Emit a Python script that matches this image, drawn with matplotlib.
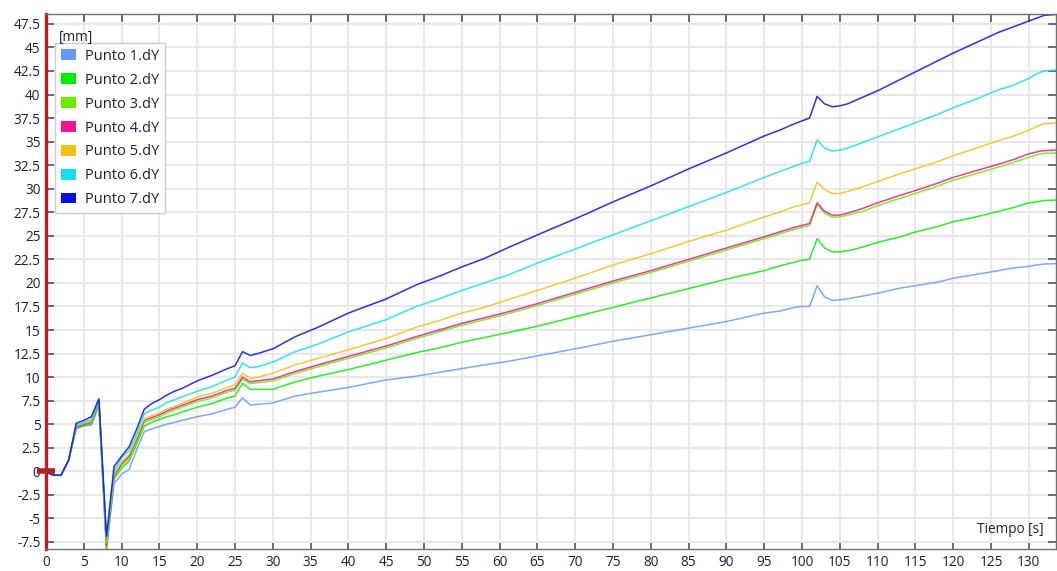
import matplotlib
matplotlib.use("Agg")
import matplotlib.pyplot as plt
from matplotlib.patches import Patch
from matplotlib.ticker import MultipleLocator, FuncFormatter

plt.rcParams['font.family'] = ['Open Sans', 'DejaVu Sans']
plt.rcParams['axes.unicode_minus'] = False

# Sample times [s]
t = [0, 1, 2, 3, 4, 5, 6, 7, 8, 9, 10, 11, 12, 13, 14, 15, 16, 17, 18, 20, 22, 24, 25,
     26, 27, 28, 30, 33, 36, 40, 45, 49, 52, 55, 58, 61, 65, 70, 75, 80, 85, 90, 95, 97,
     99, 100, 101, 102, 103, 104, 105, 106, 108, 110, 113, 115, 118, 120, 123, 126, 128,
     130, 131, 132, 133.6]

# Vertical displacement dY [mm] for each measuring point
p1 = [-0.1, -0.4, -0.4, 1.2, 4.5, 4.8, 4.9, 7.0, -8.3, -1.3, -0.3, 0.2, 2.3, 4.2, 4.5, 4.75,
      5.0, 5.2, 5.4, 5.8, 6.1, 6.6, 6.8, 7.8, 7.05, 7.1, 7.25, 8.0, 8.4, 8.9, 9.7, 10.1,
      10.5, 10.9, 11.3, 11.65, 12.25, 13.0, 13.8, 14.5, 15.2, 15.9, 16.8, 17.0, 17.4, 17.5,
      17.5, 19.7, 18.5, 18.15, 18.2, 18.3, 18.6, 18.9, 19.45, 19.7, 20.1, 20.5, 20.9, 21.3,
      21.6, 21.75, 21.9, 22.0, 22.05]
p2 = [-0.1, -0.4, -0.4, 1.2, 4.6, 4.9, 5.0, 7.1, -8.3, -0.8, 0.3, 1.1, 2.9, 4.8, 5.2, 5.5,
      5.8, 6.0, 6.3, 6.8, 7.2, 7.8, 8.0, 9.35, 8.7, 8.7, 8.7, 9.5, 10.1, 10.8, 11.8, 12.6,
      13.1, 13.7, 14.2, 14.7, 15.4, 16.4, 17.4, 18.4, 19.4, 20.4, 21.3, 21.8, 22.2, 22.4,
      22.5, 24.7, 23.7, 23.3, 23.3, 23.4, 23.8, 24.3, 24.9, 25.4, 26.0, 26.5, 27.0, 27.6,
      28.0, 28.5, 28.6, 28.75, 28.8]
p3 = [-0.1, -0.4, -0.4, 1.2, 4.7, 5.0, 5.1, 7.2, -8.0, -0.6, 0.6, 1.4, 3.2, 5.2, 5.5, 5.8,
      6.2, 6.5, 6.8, 7.4, 7.8, 8.4, 8.6, 9.8, 9.3, 9.4, 9.6, 10.4, 11.1, 12.0, 13.1, 14.1,
      14.8, 15.5, 16.1, 16.7, 17.6, 18.8, 20.0, 21.1, 22.3, 23.5, 24.7, 25.2, 25.7, 25.9,
      26.1, 28.3, 27.4, 27.0, 27.0, 27.2, 27.6, 28.2, 29.0, 29.5, 30.3, 30.9, 31.6, 32.3,
      32.8, 33.35, 33.6, 33.75, 33.8]
p4 = [-0.1, -0.4, -0.4, 1.2, 4.7, 5.0, 5.2, 7.3, -7.8, -0.5, 0.8, 1.6, 3.4, 5.4, 5.7, 6.0,
      6.4, 6.7, 7.0, 7.6, 8.0, 8.6, 8.8, 10.0, 9.5, 9.6, 9.8, 10.6, 11.3, 12.2, 13.3, 14.3,
      15.0, 15.7, 16.3, 16.9, 17.8, 19.0, 20.2, 21.3, 22.5, 23.7, 24.9, 25.4, 25.9, 26.1,
      26.3, 28.5, 27.6, 27.2, 27.2, 27.4, 27.9, 28.5, 29.3, 29.8, 30.6, 31.2, 31.9, 32.6,
      33.1, 33.7, 33.9, 34.05, 34.1]
p5 = [-0.1, -0.4, -0.4, 1.2, 4.8, 5.1, 5.3, 7.4, -7.6, -0.3, 1.0, 1.8, 3.6, 5.6, 5.9, 6.2,
      6.6, 6.9, 7.2, 7.9, 8.3, 8.9, 9.2, 10.4, 9.85, 10.0, 10.4, 11.3, 12.0, 12.9, 14.1,
      15.3, 16.0, 16.8, 17.4, 18.2, 19.2, 20.5, 21.9, 23.1, 24.4, 25.6, 27.0, 27.5, 28.1,
      28.3, 28.5, 30.7, 29.9, 29.5, 29.5, 29.7, 30.2, 30.75, 31.6, 32.1, 32.9, 33.5, 34.3,
      35.1, 35.6, 36.2, 36.6, 36.9, 37.0]
p6 = [-0.1, -0.4, -0.4, 1.2, 4.9, 5.2, 5.5, 7.5, -7.3, 0.0, 1.4, 2.2, 4.0, 6.1, 6.5, 6.8,
      7.3, 7.6, 7.9, 8.5, 9.0, 9.7, 10.0, 11.5, 11.0, 11.1, 11.6, 12.7, 13.5, 14.8, 16.1,
      17.5, 18.3, 19.2, 20.0, 20.8, 22.1, 23.6, 25.1, 26.6, 28.1, 29.6, 31.2, 31.8, 32.4,
      32.7, 32.9, 35.2, 34.3, 34.0, 34.1, 34.3, 34.9, 35.5, 36.4, 37.0, 37.9, 38.6, 39.5,
      40.5, 41.0, 41.7, 42.2, 42.5, 42.6]
p7 = [-0.1, -0.4, -0.4, 1.2, 5.1, 5.4, 5.8, 7.7, -6.9, 0.5, 1.6, 2.6, 4.5, 6.6, 7.2, 7.6,
      8.1, 8.5, 8.8, 9.6, 10.2, 10.9, 11.2, 12.7, 12.3, 12.5, 13.0, 14.3, 15.3, 16.8, 18.3,
      19.8, 20.7, 21.7, 22.6, 23.7, 25.1, 26.8, 28.6, 30.3, 32.1, 33.8, 35.6, 36.2, 36.9,
      37.2, 37.5, 39.8, 39.0, 38.7, 38.8, 39.0, 39.7, 40.4, 41.6, 42.4, 43.6, 44.4, 45.5,
      46.6, 47.2, 47.8, 48.1, 48.4, 48.5]

series = [p1, p2, p3, p4, p5, p6, p7]
labels = ["Punto 1.dY", "Punto 2.dY", "Punto 3.dY", "Punto 4.dY",
          "Punto 5.dY", "Punto 6.dY", "Punto 7.dY"]
colors = ["#6699ff", "#00ee00", "#66ee00", "#ee1493", "#f5c010", "#11e0ee", "#0a0aee"]

W, H = 1057, 571
fig = plt.figure(figsize=(W / 100, H / 100), dpi=100)
ax = fig.add_axes([46 / W, 22 / H, 1010 / W, 535 / H])

for y, c in zip(series, colors):
    ax.plot(t, y, color=c, lw=1.1, alpha=0.85, solid_joinstyle='round')

ax.set_xlim(0, 133.6)
ax.set_ylim(-8.25, 48.55)
ax.xaxis.set_major_locator(MultipleLocator(5))
ax.yaxis.set_major_locator(MultipleLocator(2.5))
ax.yaxis.set_major_formatter(FuncFormatter(lambda v, p: f"{v:g}"))

text_color = "#1e1e3c"
ax.grid(True, color="#e8e8e8", lw=1.5)
ax.set_axisbelow(True)
ax.tick_params(axis='both', which='major', direction='in', length=6, width=1.3,
               color="#606060", labelsize=9.8, labelcolor=text_color,
               top=True, right=True)
ax.tick_params(axis='y', pad=4)
ax.tick_params(axis='x', pad=4)

for side in ("top", "right", "bottom"):
    ax.spines[side].set_color("#707070")
    ax.spines[side].set_linewidth(1.0)
ax.spines["left"].set_color("#b22222")
ax.spines["left"].set_linewidth(2.4)

# zero marker on the value axis
ax.plot([0], [0], marker='_', ms=13, mew=4, color="#b22222", clip_on=False, zorder=6)

handles = [Patch(facecolor=c, edgecolor='none') for c in colors]
leg = ax.legend(handles, labels, loc='upper left', bbox_to_anchor=(0.0089, 0.9458),
                borderaxespad=0, fontsize=10.5, frameon=True, fancybox=False,
                edgecolor="#cccccc", framealpha=1, handlelength=1.03, handleheight=0.75,
                handletextpad=0.6, labelspacing=0.61, borderpad=0.4)
for txt in leg.get_texts():
    txt.set_color(text_color)
leg.get_frame().set_linewidth(1.0)

ax.text(0.0125, 0.957, "[mm]", transform=ax.transAxes, fontsize=9.8,
        color=text_color, ha='left', va='center', zorder=7)
ax.text(0.988, 0.037, "Tiempo [s]", transform=ax.transAxes, fontsize=9.8,
        color=text_color, ha='right', va='center')

fig.savefig("out.png", dpi=100, facecolor="white")
